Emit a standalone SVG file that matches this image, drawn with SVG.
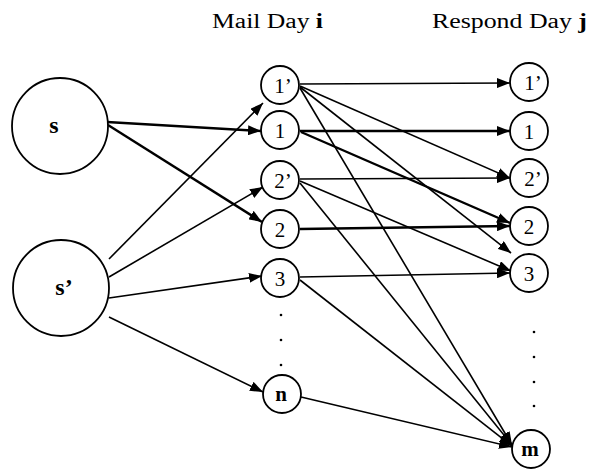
<svg xmlns="http://www.w3.org/2000/svg" width="592" height="469" viewBox="0 0 592 469">
<style>
.n circle{fill:#fff;stroke:#000;stroke-width:1.8}
.lbl{font-family:"Liberation Serif","Times New Roman",serif;font-size:21px;fill:#000;text-anchor:middle}
.b{font-weight:bold}
.e line{stroke:#000;stroke-width:1.6;marker-end:url(#ah)}
.e line.t{stroke-width:2.4}
.dot{fill:#000}
.hdr{font-family:"Liberation Serif","Times New Roman",serif;font-size:20px;fill:#000}
</style>
<defs>
<marker id="ah" viewBox="0 0 13 10" refX="13" refY="5" markerWidth="13" markerHeight="10" markerUnits="userSpaceOnUse" orient="auto">
<path d="M0,0 L13,5 L0,10 z" fill="#000"/>
</marker>
</defs>
<rect width="592" height="469" fill="#fff"/>
<text class="hdr" x="212" y="28" textLength="111" lengthAdjust="spacingAndGlyphs">Mail Day <tspan class="b">i</tspan></text>
<text class="hdr" x="432" y="28" textLength="155" lengthAdjust="spacingAndGlyphs">Respond Day <tspan class="b">j</tspan></text>
<g class="e" id="connectors">
<line class="t" x1="107" y1="122" x2="261" y2="131"/>
<line class="t" x1="108" y1="125" x2="262" y2="222"/>
<line x1="109" y1="259" x2="263" y2="103"/>
<line x1="109" y1="277" x2="263" y2="187"/>
<line x1="109" y1="298" x2="262" y2="276"/>
<line x1="109" y1="317" x2="263" y2="392"/>
<line x1="300" y1="84" x2="510" y2="83"/>
<line x1="300" y1="86" x2="510" y2="178"/>
<line x1="300" y1="87" x2="511" y2="253"/>
<line x1="300" y1="88" x2="512" y2="445"/>
<line class="t" x1="300" y1="131" x2="510" y2="131"/>
<line class="t" x1="301" y1="132" x2="510" y2="223"/>
<line x1="300" y1="179" x2="510" y2="178"/>
<line x1="300" y1="181" x2="511" y2="271"/>
<line x1="300" y1="183" x2="512" y2="445"/>
<line class="t" x1="300" y1="229" x2="510" y2="226"/>
<line x1="300" y1="277" x2="510" y2="273"/>
<line x1="300" y1="280" x2="512" y2="446"/>
<line x1="301" y1="397" x2="512" y2="447"/>
</g>
<g class="n" id="node-s"><circle cx="60" cy="126" r="48"/><text class="lbl b" x="54" y="133" style="font-size:24px">s</text></g>
<g class="n" id="node-sp"><circle cx="61" cy="288" r="48"/><text class="lbl b" x="64" y="295" style="font-size:24px">s’</text></g>
<g class="n" id="mail-1p"><circle cx="280" cy="85" r="19"/><text class="lbl" x="283" y="93">1’</text></g>
<g class="n" id="mail-1"><circle cx="280" cy="130" r="19"/><text class="lbl" x="280" y="138">1</text></g>
<g class="n" id="mail-2p"><circle cx="280" cy="180" r="19"/><text class="lbl" x="283" y="188">2’</text></g>
<g class="n" id="mail-2"><circle cx="280" cy="229" r="19"/><text class="lbl" x="280" y="237">2</text></g>
<g class="n" id="mail-3"><circle cx="280" cy="278" r="19"/><text class="lbl" x="280" y="286">3</text></g>
<g class="n" id="mail-n"><circle cx="282" cy="394" r="19"/><text class="lbl b" x="281" y="401">n</text></g>
<g class="n" id="resp-1p"><circle cx="529" cy="82" r="19"/><text class="lbl" x="533" y="90">1’</text></g>
<g class="n" id="resp-1"><circle cx="529" cy="131" r="19"/><text class="lbl" x="529" y="139">1</text></g>
<g class="n" id="resp-2p"><circle cx="529" cy="178" r="19"/><text class="lbl" x="533" y="186">2’</text></g>
<g class="n" id="resp-2"><circle cx="529" cy="226" r="19"/><text class="lbl" x="529" y="234">2</text></g>
<g class="n" id="resp-3"><circle cx="529" cy="273" r="19"/><text class="lbl" x="529" y="281">3</text></g>
<g class="n" id="resp-m"><circle cx="531" cy="449" r="19"/><text class="lbl b" x="530" y="456">m</text></g>
<g id="dots">
<circle class="dot" cx="281" cy="315" r="1.3"/>
<circle class="dot" cx="281" cy="340" r="1.3"/>
<circle class="dot" cx="281" cy="365" r="1.3"/>
<circle class="dot" cx="534" cy="332" r="1.3"/>
<circle class="dot" cx="534" cy="357" r="1.3"/>
<circle class="dot" cx="534" cy="382" r="1.3"/>
<circle class="dot" cx="534" cy="406" r="1.3"/>
</g>
</svg>
